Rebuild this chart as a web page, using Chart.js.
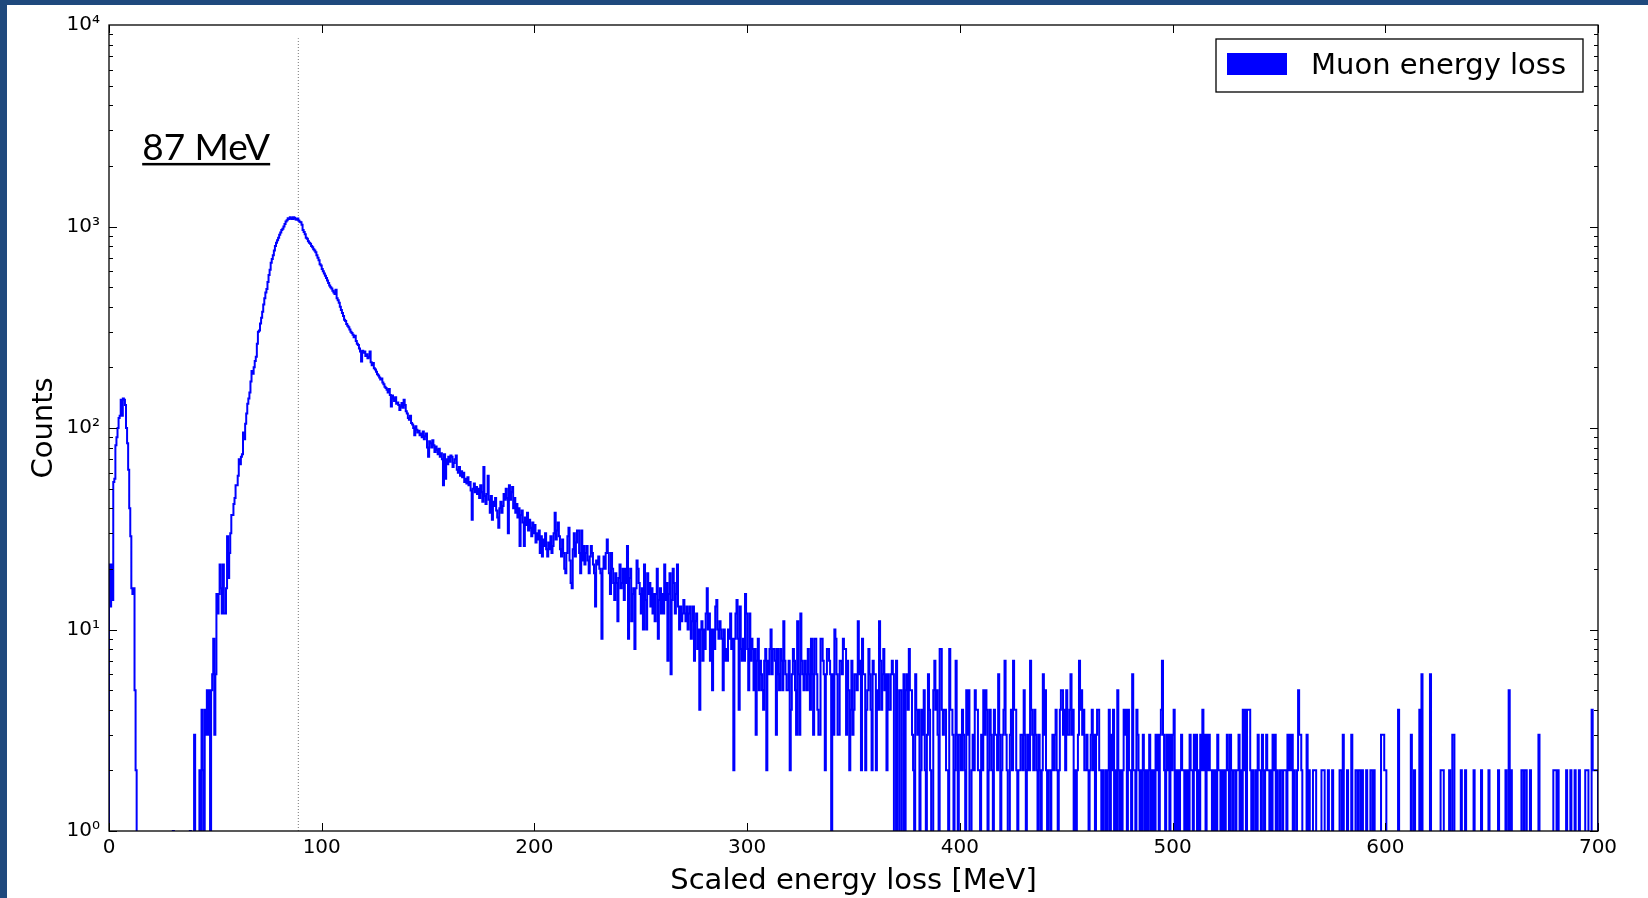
<!DOCTYPE html>
<html>
<head>
<meta charset="utf-8">
<title>Muon energy loss</title>
<script src="https://cdn.jsdelivr.net/npm/chart.js@4.4.1/dist/chart.umd.min.js"></script>
<style>
    html, body { margin: 0; padding: 0; background: #fff; }
    body { width: 1648px; height: 898px; position: relative; overflow: hidden; }
    #chart { position: absolute; left: 0; top: 0; }
    .edge { position: absolute; background: #1f497d; z-index: 2; }
    .edge-top { left: 0; top: 0; width: 1648px; height: 5px; }
    .edge-left { left: 0; top: 0; width: 7px; height: 898px; }
</style>
</head>
<body>
<div class="edge edge-top"></div>
<div class="edge edge-left"></div>
<canvas id="chart" width="1648" height="898"></canvas>
<script>
// histogram bins are 0.5 MeV wide, starting at 0 MeV
const binWidth = 0.5;

// 0 - 39.5 MeV: low-energy bump, then (almost) empty bins
const countsLowPeak = [
    21, 13, 21, 14, 54, 56, 82, 90, 100, 112, 115, 138, 115, 140, 138, 130, 100, 84, 62, 40,
    29, 16, 15, 16, 5, 2, 0, 0, 0, 0, 0, 0, 0, 0, 0, 0, 0, 0, 0, 0,
    0, 0, 0, 0, 0, 0, 0, 0, 0, 0, 0, 0, 0, 0, 0, 0, 0, 0, 0, 0,
    1, 0, 0, 0, 0, 0, 0, 0, 0, 0, 0, 0, 0, 0, 0, 0, 1, 0, 0, 0
];

// 40 - 89.5 MeV: rising edge up to the most probable value
const countsMainPeak = [
    3, 0, 0, 0, 0, 2, 0, 4, 2, 0, 4, 3, 5, 3, 5, 0, 5, 6, 9, 3,
    6, 15, 12, 15, 21, 16, 12, 21, 12, 12, 16, 29, 18, 24, 30, 37, 37, 42, 45, 52,
    52, 58, 70, 66, 72, 74, 95, 88, 105, 118, 132, 140, 150, 170, 192, 186, 200, 215, 226, 262,
    300, 305, 330, 352, 377, 410, 440, 470, 490, 530, 575, 610, 660, 690, 720, 760, 800, 830, 855, 880,
    910, 935, 960, 975, 1000, 1030, 1060, 1075, 1100, 1090, 1110, 1100, 1090, 1110, 1105, 1085, 1080, 1095, 1070, 1055
];

// 90 - 209.5 MeV: falling Landau tail
const countsFalloff = [
    1050, 1020, 960, 940, 915, 880, 870, 845, 830, 820, 800, 790, 770, 760, 745, 720, 700, 680, 650, 640,
    615, 600, 585, 570, 555, 540, 525, 510, 500, 492, 480, 470, 462, 486, 440, 430, 418, 400, 385, 372,
    360, 345, 340, 328, 322, 316, 308, 300, 296, 290, 282, 287, 270, 262, 258, 248, 240, 214, 242, 236,
    240, 228, 232, 222, 226, 240, 212, 205, 210, 198, 195, 190, 185, 182, 178, 174, 176, 168, 165, 160,
    158, 155, 150, 156, 146, 128, 145, 140, 136, 142, 132, 134, 130, 123, 128, 133, 126, 138, 130, 121,
    118, 112, 110, 115, 106, 104, 100, 92, 102, 98, 95, 97, 92, 94, 90, 96, 88, 91, 94, 80,
    72, 86, 84, 80, 87, 82, 76, 81, 78, 74, 79, 72, 75, 70, 52, 74, 56, 70, 66, 72,
    68, 73, 72, 64, 67, 70, 73, 62, 60, 64, 58, 61, 57, 60, 54, 56, 53, 57, 52, 54,
    49, 35, 50, 53, 48, 51, 47, 50, 45, 52, 48, 43, 64, 46, 42, 47, 58, 44, 38, 46,
    35, 43, 41, 45, 39, 36, 32, 40, 43, 38, 41, 47, 44, 50, 45, 30, 52, 44, 48, 51,
    40, 45, 38, 42, 36, 40, 26, 37, 39, 34, 26, 36, 33, 38, 31, 35, 32, 29, 34, 30,
    33, 27, 30, 28, 31, 24, 29, 23, 28, 26, 30, 25, 23, 27, 25, 29, 24, 26, 30, 38
];

// 210 - 329.5 MeV
const countsShoulder = [
    28, 31, 34, 29, 25, 23, 28, 24, 20, 19, 24, 29, 32, 22, 17, 16, 25, 30, 23, 27,
    31, 31, 24, 19, 31, 22, 26, 21, 24, 26, 22, 19, 23, 26, 24, 21, 19, 13, 22, 21,
    23, 20, 19, 9, 20, 23, 20, 24, 28, 24, 19, 15, 24, 20, 17, 14, 19, 17, 11, 18,
    21, 16, 17, 20, 14, 20, 17, 26, 9, 18, 20, 11, 15, 16, 8, 16, 22, 20, 17, 15,
    12, 16, 10, 21, 14, 10, 19, 15, 17, 13, 16, 12, 15, 11, 15, 20, 9, 14, 16, 12,
    15, 12, 21, 14, 17, 7, 15, 19, 6, 14, 20, 17, 12, 15, 21, 13, 10, 13, 11, 12,
    14, 12, 11, 13, 10, 12, 13, 9, 11, 13, 7, 11, 12, 8, 10, 4, 10, 11, 7, 10,
    8, 12, 16, 10, 12, 7, 10, 5, 10, 8, 13, 14, 10, 9, 11, 10, 9, 5, 10, 7,
    8, 7, 10, 9, 12, 8, 9, 2, 9, 12, 14, 9, 4, 13, 8, 7, 9, 7, 15, 12,
    8, 5, 12, 7, 9, 8, 5, 8, 3, 7, 9, 5, 7, 6, 5, 4, 7, 8, 2, 7,
    6, 8, 10, 6, 8, 8, 7, 3, 8, 6, 5, 8, 7, 5, 11, 7, 6, 5, 5, 7,
    2, 4, 6, 8, 7, 5, 3, 11, 6, 3, 12, 7, 6, 5, 7, 6, 5, 8, 6, 4
];

// 330 - 459.5 MeV
const countsTailNear = [
    9, 6, 3, 9, 9, 6, 4, 3, 3, 9, 9, 7, 6, 2, 6, 8, 8, 7, 6, 0,
    6, 3, 10, 9, 6, 3, 3, 7, 7, 6, 9, 8, 8, 3, 7, 5, 2, 4, 7, 3,
    4, 6, 6, 5, 11, 6, 7, 2, 9, 6, 6, 2, 4, 5, 8, 6, 4, 2, 7, 6,
    6, 2, 5, 4, 11, 7, 4, 6, 8, 5, 6, 2, 6, 4, 4, 6, 7, 6, 0, 0,
    7, 0, 0, 5, 5, 0, 0, 6, 0, 5, 6, 4, 8, 5, 5, 3, 2, 0, 6, 4,
    3, 4, 0, 2, 4, 3, 5, 2, 0, 3, 6, 4, 2, 0, 0, 5, 7, 4, 5, 3,
    0, 8, 8, 4, 3, 4, 4, 2, 2, 0, 8, 4, 4, 3, 0, 2, 7, 3, 0, 3,
    3, 2, 4, 3, 2, 0, 5, 3, 5, 0, 0, 2, 3, 2, 5, 4, 4, 2, 2, 0,
    3, 2, 5, 3, 5, 4, 0, 2, 4, 3, 2, 0, 4, 3, 3, 2, 6, 3, 0, 2,
    3, 4, 7, 3, 2, 0, 0, 3, 4, 2, 7, 4, 4, 2, 0, 2, 2, 3, 3, 2,
    5, 3, 0, 2, 3, 2, 7, 4, 3, 2, 4, 3, 2, 0, 3, 2, 0, 2, 6, 3,
    5, 2, 0, 2, 2, 0, 2, 3, 2, 3, 4, 2, 0, 2, 4, 5, 5, 3, 4, 2,
    5, 3, 3, 4, 6, 3, 4, 0, 2, 0, 2, 3, 7, 4, 5, 3, 4, 2, 2, 3
];

// 460 - 559.5 MeV
const countsTailMid = [
    2, 0, 2, 3, 4, 2, 3, 0, 3, 4, 4, 2, 2, 0, 2, 0, 0, 2, 0, 2,
    4, 0, 3, 2, 4, 0, 2, 0, 5, 2, 0, 2, 0, 2, 4, 3, 4, 0, 4, 2,
    2, 0, 6, 2, 2, 0, 4, 3, 2, 0, 2, 0, 3, 2, 0, 2, 0, 2, 3, 0,
    2, 0, 2, 0, 3, 2, 3, 0, 3, 4, 7, 3, 2, 0, 3, 2, 3, 0, 3, 2,
    3, 4, 0, 2, 0, 2, 0, 2, 3, 2, 2, 0, 2, 0, 2, 0, 3, 2, 2, 0,
    3, 2, 3, 0, 2, 0, 3, 2, 4, 2, 3, 0, 3, 2, 3, 2, 2, 0, 2, 0,
    2, 0, 3, 2, 2, 0, 2, 0, 2, 0, 2, 3, 2, 0, 3, 2, 0, 2, 2, 0,
    2, 2, 3, 0, 2, 0, 4, 2, 4, 0, 4, 4, 4, 2, 0, 2, 0, 0, 2, 0,
    3, 2, 2, 0, 3, 2, 0, 2, 3, 2, 2, 0, 2, 0, 3, 2, 3, 0, 2, 0,
    0, 2, 2, 0, 2, 2, 2, 0, 3, 2, 3, 2, 3, 0, 2, 0, 0, 2, 5, 3
];

// 560 - 699.5 MeV
const countsTailFar = [
    3, 2, 0, 0, 0, 0, 3, 0, 2, 0, 0, 0, 2, 2, 2, 0, 0, 0, 0, 0,
    2, 2, 2, 0, 0, 0, 2, 0, 0, 0, 2, 0, 0, 0, 0, 0, 0, 2, 2, 0,
    3, 0, 0, 0, 2, 0, 0, 0, 3, 0, 0, 0, 2, 2, 0, 2, 2, 0, 2, 0,
    0, 0, 2, 0, 0, 0, 2, 2, 0, 2, 0, 0, 0, 0, 0, 0, 3, 3, 3, 2,
    2, 0, 0, 0, 0, 0, 0, 0, 0, 0, 0, 0, 4, 0, 0, 0, 0, 0, 0, 0,
    0, 0, 0, 0, 3, 0, 0, 2, 0, 0, 0, 0, 4, 0, 6, 0, 0, 0, 0, 0,
    0, 0, 6, 0, 0, 0, 0, 0, 0, 0, 0, 0, 2, 2, 2, 0, 0, 0, 0, 0,
    2, 0, 0, 3, 3, 0, 0, 0, 0, 0, 0, 2, 0, 0, 0, 2, 0, 0, 0, 0,
    0, 0, 0, 2, 0, 0, 0, 0, 0, 0, 2, 0, 0, 0, 0, 0, 0, 2, 0, 0,
    0, 0, 0, 0, 0, 0, 2, 0, 0, 0, 0, 0, 0, 2, 0, 0, 5, 0, 2, 0,
    0, 0, 0, 0, 0, 0, 0, 0, 2, 2, 0, 2, 2, 0, 0, 0, 2, 0, 0, 0,
    0, 0, 0, 0, 3, 0, 0, 0, 0, 0, 0, 0, 0, 0, 0, 0, 0, 0, 2, 2,
    2, 0, 2, 0, 0, 0, 0, 0, 0, 0, 2, 0, 0, 0, 2, 0, 0, 0, 2, 0,
    0, 0, 2, 0, 0, 0, 0, 0, 2, 2, 2, 0, 0, 0, 4, 2, 2, 2, 2, 2
];

const xTickValues = [0, 100, 200, 300, 400, 500, 600, 700];
const yTickValues = [1, 10, 100, 1000, 10000];
const yTickLabels = ['10\u2070', '10\u00b9', '10\u00b2', '10\u00b3', '10\u2074'];

// most probable value marker
const peakMarkerMeV = 89;
const peakMarkerTop = 8600;
const peakLabel = '87 MeV';
const seriesLabel = 'Muon energy loss';

// empty bins cannot sit on a log axis: push them below the plot so the step drops out of view
const emptyBinLevel = 0.3;

const counts = [].concat(countsLowPeak, countsMainPeak, countsFalloff, countsShoulder,
    countsTailNear, countsTailMid, countsTailFar);

// step histogram: left edge from below, one point per bin edge, closing edge back down
const histPoints = [{x: 0, y: emptyBinLevel}];
counts.forEach((c, i) => histPoints.push({x: i * binWidth, y: c > 0 ? c : emptyBinLevel}));
histPoints.push({x: counts.length * binWidth, y: emptyBinLevel});

const axisFont = {family: 'DejaVu Sans', size: 20};
const titleFont = {family: 'DejaVu Sans', size: 29};

const framePlugin = {
    id: 'frame',
    afterDraw(chart) {
        const {ctx, chartArea: a, scales: {x, y}} = chart;
        const seg = (x1, y1, x2, y2) => {
            ctx.beginPath();
            ctx.moveTo(x1, y1);
            ctx.lineTo(x2, y2);
            ctx.stroke();
        };
        ctx.save();
        ctx.strokeStyle = '#000';
        ctx.lineWidth = 1;
        xTickValues.forEach((v) => {
            const px = Math.round(x.getPixelForValue(v)) + 0.5;
            seg(px, a.bottom, px, a.bottom - 8);
            seg(px, a.top, px, a.top + 8);
        });
        for (let e = 0; e < 4; e++) {
            for (let m = 1; m < 10; m++) {
                const py = Math.round(y.getPixelForValue(m * Math.pow(10, e))) + 0.5;
                const len = m === 1 ? 8 : 4;
                seg(a.left, py, a.left + len, py);
                seg(a.right, py, a.right - len, py);
            }
        }
        ctx.lineWidth = 1.3;
        ctx.strokeRect(a.left, a.top, a.right - a.left, a.bottom - a.top);

        // legend box, upper right inside the axes
        const bx = a.right - 382;
        const by = a.top + 14;
        ctx.fillStyle = '#fff';
        ctx.fillRect(bx, by, 367, 53);
        ctx.strokeRect(bx, by, 367, 53);
        ctx.fillStyle = '#0000ff';
        ctx.fillRect(bx + 11, by + 14, 60, 22);
        ctx.fillStyle = '#000';
        ctx.font = '29px "DejaVu Sans"';
        ctx.textBaseline = 'alphabetic';
        ctx.textAlign = 'left';
        ctx.fillText(seriesLabel, bx + 95, by + 35);

        // underlined peak annotation
        ctx.font = '37px Lato';
        const tx = x.getPixelForValue(15.6);
        const ty = y.getPixelForValue(2140);
        ctx.fillText(peakLabel, tx, ty);
        const w = ctx.measureText(peakLabel).width;
        ctx.fillRect(tx, ty + 3, w, 2.5);
        ctx.restore();
    }
};

new Chart(document.getElementById('chart'), {
    type: 'line',
    data: {
        datasets: [
            {
                label: seriesLabel,
                data: histPoints,
                stepped: true,
                borderColor: '#0000ff',
                borderWidth: 2,
                pointRadius: 0,
                fill: false,
                order: 1
            },
            {
                label: 'peak',
                data: [{x: peakMarkerMeV, y: 1}, {x: peakMarkerMeV, y: peakMarkerTop}],
                borderColor: '#777',
                borderWidth: 1,
                borderDash: [1, 2],
                pointRadius: 0,
                fill: false,
                order: 2
            }
        ]
    },
    options: {
        responsive: false,
        animation: false,
        events: [],
        parsing: false,
        layout: {
            padding: {top: 25, right: 50, bottom: 0, left: 0}
        },
        plugins: {
            legend: { display: false },
            tooltip: { enabled: false }
        },
        scales: {
            x: {
                type: 'linear',
                min: 0,
                max: 700,
                grid: { display: false, drawTicks: false },
                border: { display: false },
                afterBuildTicks: (scale) => {
                    scale.ticks = xTickValues.map((v) => ({value: v}));
                },
                afterFit: (scale) => { scale.height = 67; },
                ticks: { font: axisFont, color: '#000', padding: 5, maxRotation: 0 },
                title: {
                    display: true,
                    text: 'Scaled energy loss [MeV]',
                    font: titleFont,
                    color: '#000',
                    padding: {top: 0, bottom: -1}
                }
            },
            y: {
                type: 'logarithmic',
                min: 1,
                max: 10000,
                grid: { display: false, drawTicks: false },
                border: { display: false },
                afterBuildTicks: (scale) => {
                    scale.ticks = yTickValues.map((v) => ({value: v}));
                },
                afterFit: (scale) => { scale.width = 109; },
                ticks: {
                    font: axisFont,
                    color: '#000',
                    padding: 9,
                    callback: (value, index) => yTickLabels[index]
                },
                title: {
                    display: true,
                    text: 'Counts',
                    font: titleFont,
                    color: '#000',
                    padding: {top: 27, bottom: 0}
                }
            }
        }
    },
    plugins: [framePlugin]
});
</script>
</body>
</html>
